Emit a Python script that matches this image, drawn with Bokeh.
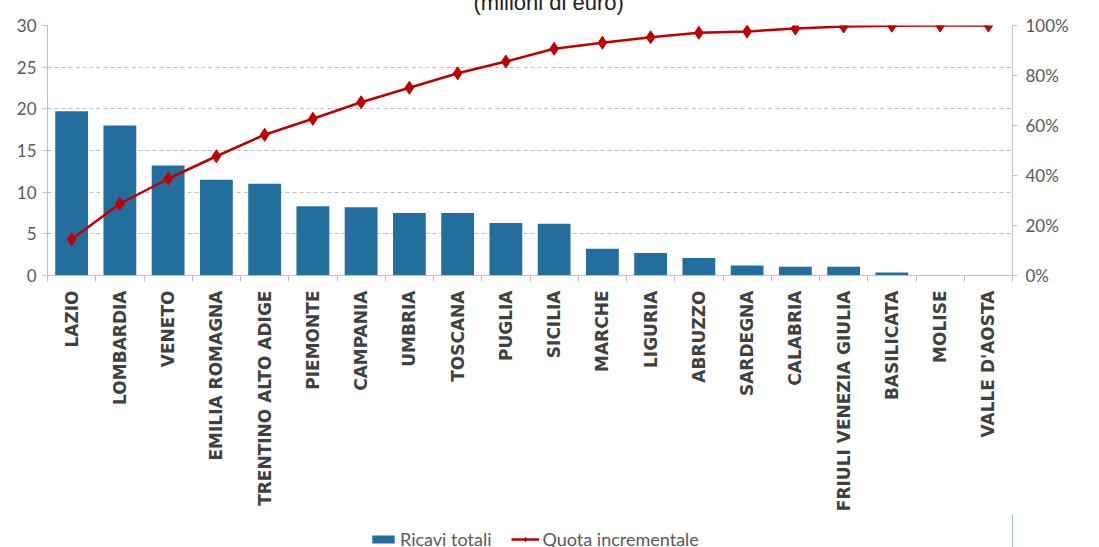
import math
from bokeh.plotting import figure
from bokeh.layouts import column
from bokeh.models import (Range1d, LinearAxis, FixedTicker, NumeralTickFormatter,
                          Legend, LegendItem, Title, ColumnDataSource)
from bokeh.embed import file_html
from bokeh.resources import INLINE

regions = ["LAZIO", "LOMBARDIA", "VENETO", "EMILIA ROMAGNA", "TRENTINO ALTO ADIGE",
           "PIEMONTE", "CAMPANIA", "UMBRIA", "TOSCANA", "PUGLIA", "SICILIA", "MARCHE",
           "LIGURIA", "ABRUZZO", "SARDEGNA", "CALABRIA", "FRIULI VENEZIA GIULIA",
           "BASILICATA", "MOLISE", "VALLE D'AOSTA"]
ricavi = [19.7, 18.0, 13.2, 11.5, 11.0, 8.3, 8.2, 7.5, 7.5, 6.3, 6.2, 3.2,
          2.7, 2.1, 1.2, 1.05, 1.05, 0.35, 0.0, 0.0]
quota = [0.145, 0.287, 0.387, 0.477, 0.563, 0.627, 0.693, 0.751, 0.809, 0.856,
         0.907, 0.931, 0.953, 0.971, 0.976, 0.988, 0.996, 0.999, 1.0, 1.0]
left_ticks = [0, 5, 10, 15, 20, 25, 30]
right_ticks = [0, 0.2, 0.4, 0.6, 0.8, 1.0]
title_text = "(milioni di euro)"
legend_labels = ["Ricavi totali", "Quota incrementale"]

xc = [i + 0.5 for i in range(len(regions))]
src = ColumnDataSource(dict(x=xc, r=ricavi, q=quota))

BLUE = "#246E9D"
RED = "#C00000"
GRID = "#BFBFBF"
TXT = "#595959"

p = figure(frame_width=965, frame_height=250, output_backend="svg", toolbar_location=None,
           x_range=Range1d(0, len(regions)), y_range=Range1d(0, 30),
           min_border_left=47, min_border_right=87, min_border_top=0,
           min_border_bottom=236)
p.outline_line_color = None
p.extra_y_ranges = {"pct": Range1d(0, 1)}

p.title = Title(text=title_text, align="left", offset=426, standoff=21,
                vertical_align="bottom", text_font="Liberation Sans",
                text_font_size="22px", text_font_style="normal",
                text_color="#222222")

p.vbar(x="x", top="r", width=0.68, source=src, fill_color=BLUE, line_color=None)
p.line(x="x", y="q", source=src, y_range_name="pct", line_color=RED, line_width=2.5)
p.scatter(x="x", y="q", source=src, y_range_name="pct", marker="diamond",
          size=13, fill_color=RED, line_color=RED)

# axes
p.xgrid.visible = False
p.ygrid.grid_line_color = GRID
p.ygrid.grid_line_dash = "4 3"
p.ygrid.grid_line_width = 1
p.ygrid.ticker = FixedTicker(ticks=left_ticks)

yax = p.yaxis[0]
yax.ticker = FixedTicker(ticks=left_ticks)
yax.axis_line_color = GRID
yax.major_tick_line_color = GRID
yax.major_tick_out = 5
yax.major_tick_in = 0
yax.minor_tick_line_color = None
yax.major_label_text_font = "Lato"
yax.major_label_text_font_size = "17px"
yax.major_label_text_color = TXT
yax.major_label_standoff = 6

rax = LinearAxis(y_range_name="pct", ticker=FixedTicker(ticks=right_ticks),
                 formatter=NumeralTickFormatter(format="0%"))
rax.axis_line_color = GRID
rax.major_tick_line_color = GRID
rax.major_tick_out = 5
rax.major_tick_in = 0
rax.minor_tick_line_color = None
rax.major_label_text_font = "Lato"
rax.major_label_text_font_size = "17px"
rax.major_label_text_color = TXT
rax.major_label_standoff = 8
p.add_layout(rax, "right")

xax = p.xaxis[0]
xax.ticker = FixedTicker(ticks=xc, minor_ticks=list(range(len(regions) + 1)))
xax.major_label_overrides = {x: r for x, r in zip(xc, regions)}
xax.major_label_orientation = math.pi / 2
xax.major_tick_line_color = None
xax.major_tick_out = 0
xax.major_tick_in = 0
xax.minor_tick_line_color = GRID
xax.minor_tick_out = 6
xax.minor_tick_in = 0
xax.axis_line_color = GRID
xax.major_label_text_font = "DejaVu Sans"
xax.major_label_text_font_style = "bold"
xax.major_label_text_font_size = "17px"
xax.major_label_text_color = "#404040"
xax.major_label_standoff = 9

# legend strip below the chart (same glyph styles as the chart's series;
# the stand-in renderers hold one point outside the strip's visible range)
lg = figure(width=1099, height=36, output_backend="svg", toolbar_location=None,
            x_axis_location=None, y_axis_location=None,
            x_range=Range1d(0, 1), y_range=Range1d(0, 1),
            min_border_left=0, min_border_right=0, min_border_top=0, min_border_bottom=0)
lg.outline_line_color = None
lg.grid.visible = False
offscreen = ColumnDataSource(dict(x=[10, 11], y=[10, 11]))
lb = lg.vbar(x="x", top="y", width=0.5, source=offscreen, fill_color=BLUE, line_color=None)
ll = lg.line(x="x", y="y", source=offscreen, line_color=RED, line_width=2.5)
lp = lg.scatter(x="x", y="y", source=offscreen, marker="diamond", size=11,
                fill_color=RED, line_color=RED)
legend = Legend(items=[LegendItem(label=legend_labels[0], renderers=[lb], index=0),
                       LegendItem(label=legend_labels[1], renderers=[ll, lp], index=0)],
                orientation="horizontal", location=(322, 0),
                label_text_font="Lato", label_text_font_size="18px",
                label_text_color=TXT, border_line_color=None,
                background_fill_alpha=0, glyph_width=28, glyph_height=10,
                label_standoff=3, spacing=20, padding=2, margin=0)
lg.add_layout(legend)

layout = column(p, lg, spacing=0)
# the reference is cropped at the top: shift up so only the bottom of the title shows
layout.styles = {"margin-top": "-23px"}

open("out.html", "w").write(file_html(layout, INLINE))
